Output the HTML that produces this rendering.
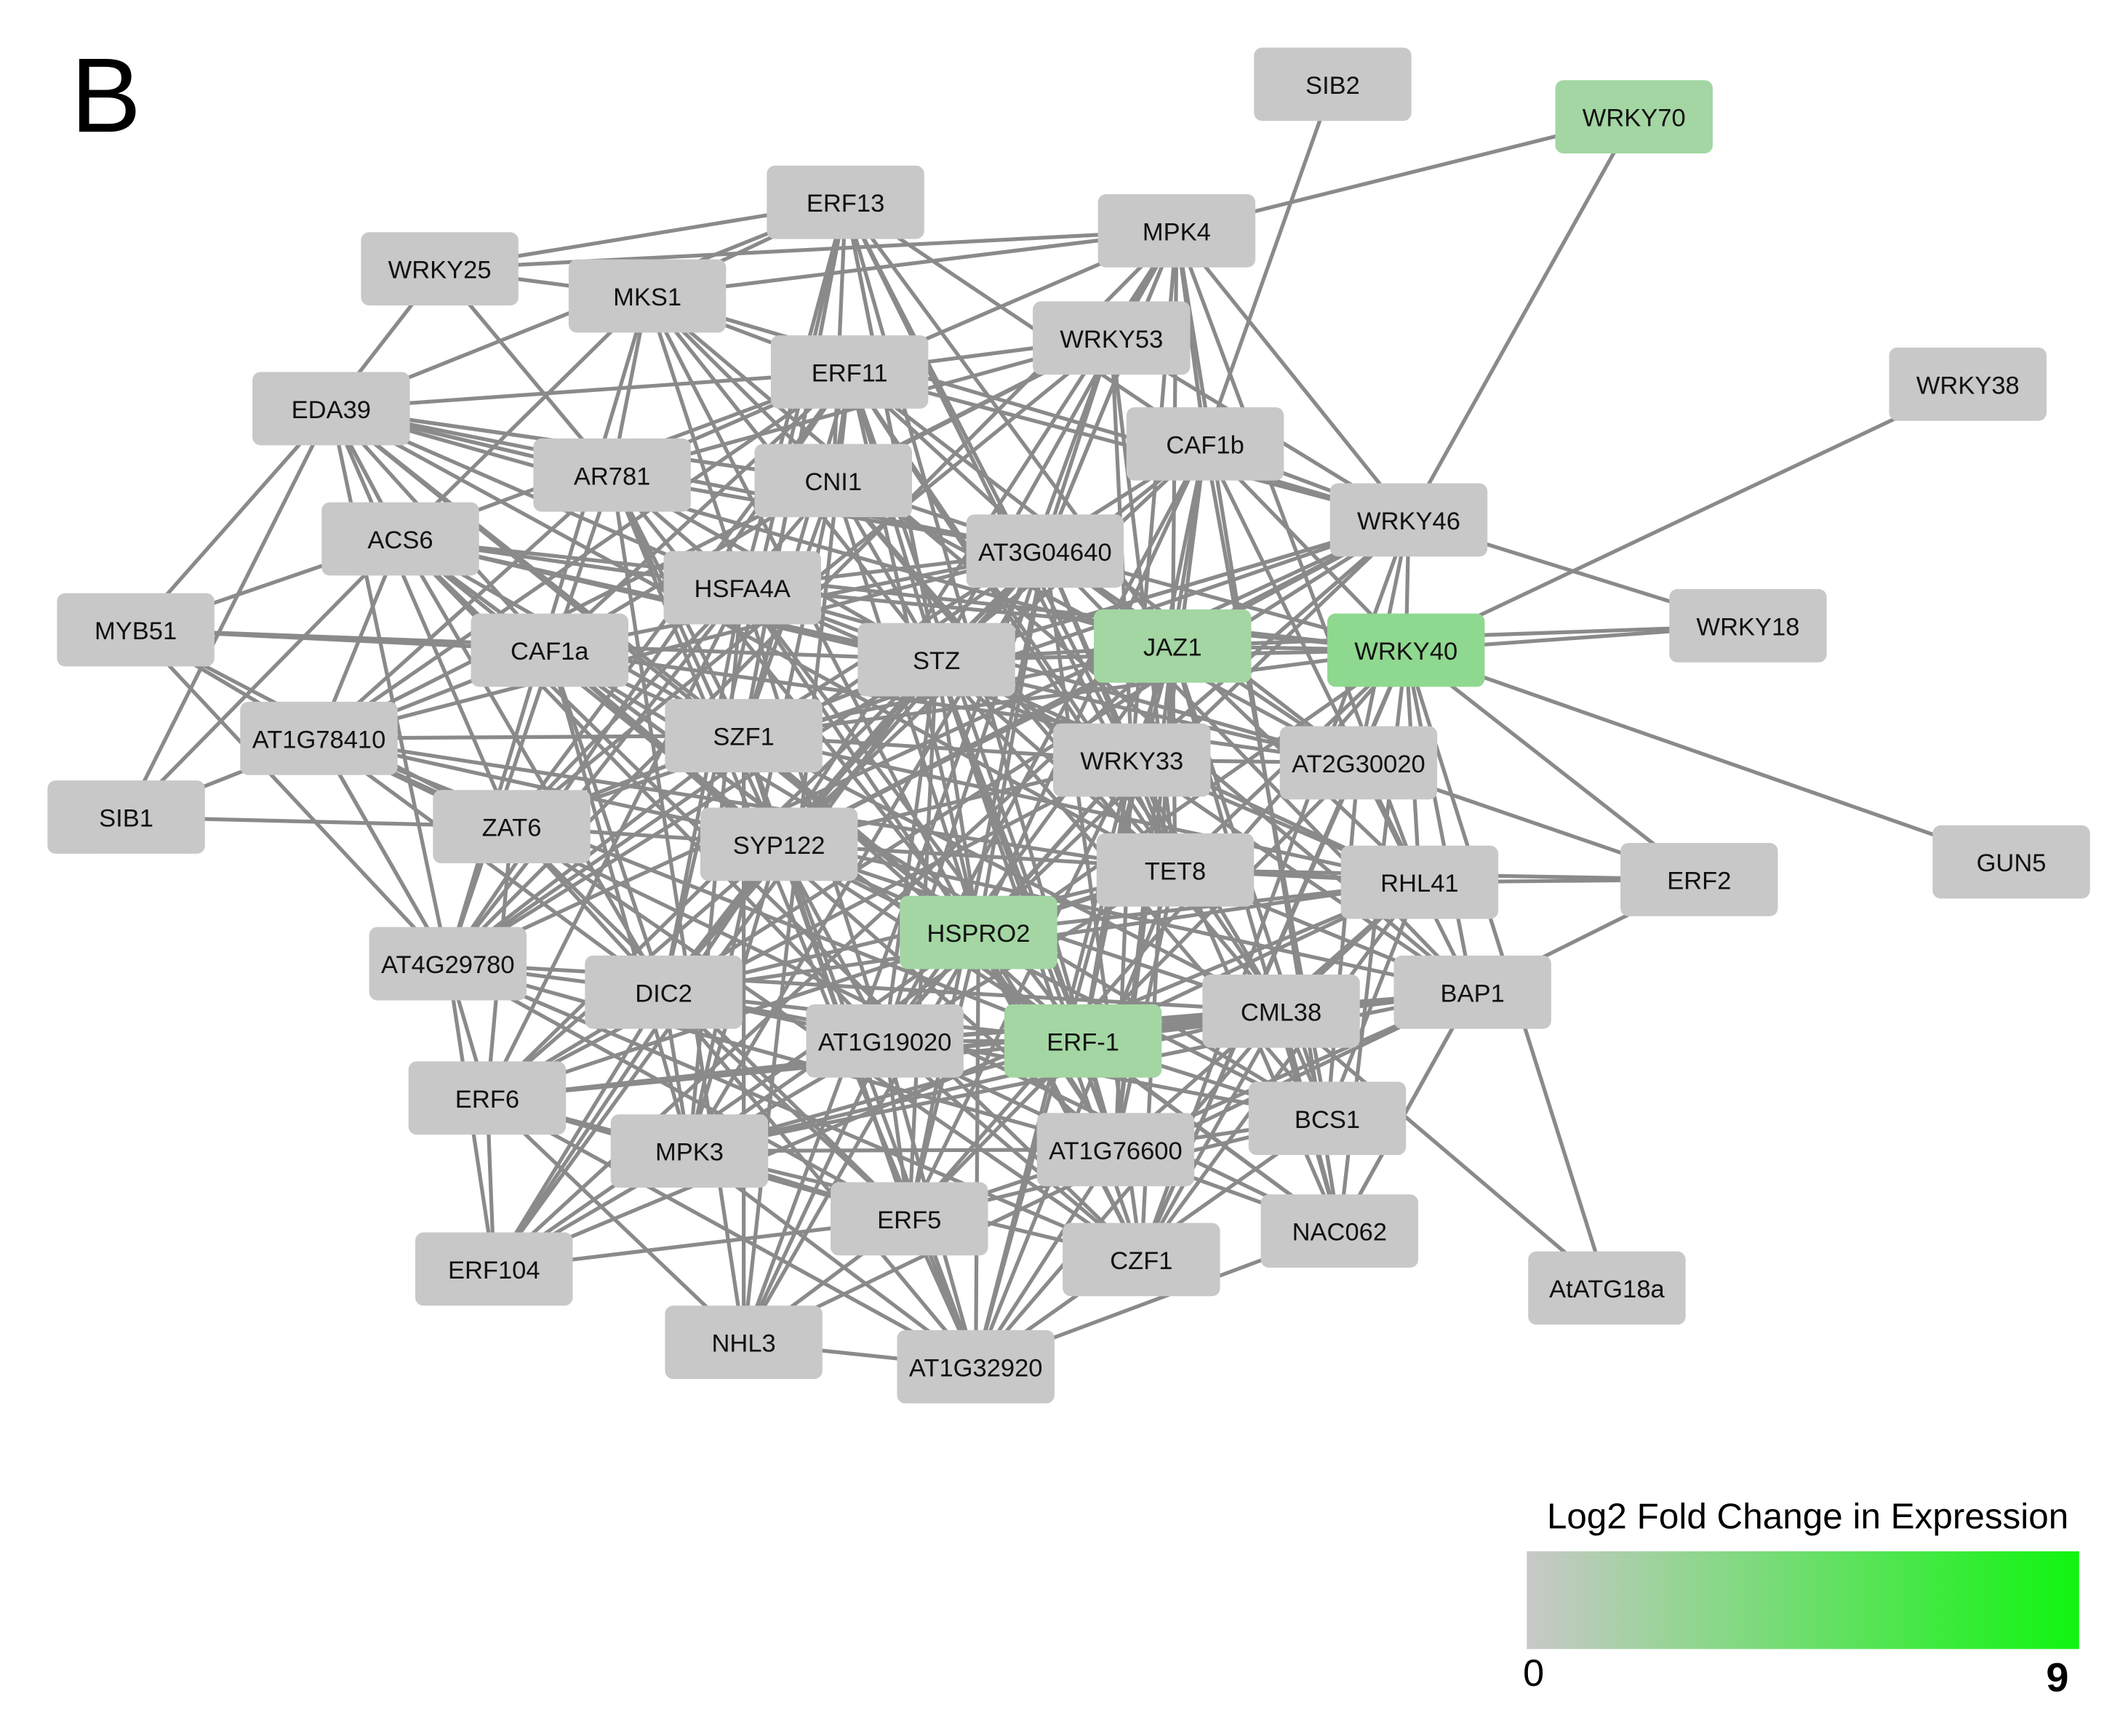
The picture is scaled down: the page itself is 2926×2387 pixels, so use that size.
<!DOCTYPE html>
<html><head><meta charset="utf-8"><style>
html,body{margin:0;padding:0;background:#fff}
svg{display:block}
text{font-family:"Liberation Sans",sans-serif}
</style></head><body>
<svg id="s" width="2926" height="2387" viewBox="0 0 1568 1279" xmlns="http://www.w3.org/2000/svg">
<defs><linearGradient id="g" x1="0" x2="1" y1="0" y2="0"><stop offset="0" stop-color="#c8c8c8"/><stop offset="1" stop-color="#10f510"/></linearGradient></defs>
<rect width="1568" height="1279" fill="#fff"/>
<g id="edges" stroke="#8a8a8a" stroke-width="2.8" fill="none"></g>
<g id="nodes" font-size="18.5" text-anchor="middle"></g>
<text x="52" y="97" font-size="78">B</text>
<text x="1332" y="1126" font-size="26.5" text-anchor="middle">Log2 Fold Change in Expression</text>
<rect x="1125" y="1143" width="407" height="72" fill="url(#g)"/>
<text x="1130" y="1242" font-size="28" text-anchor="middle">0</text>
<text x="1516" y="1246" font-size="30" font-weight="bold" text-anchor="middle">9</text>
<g font-size="18.5" text-anchor="middle" fill="#111">
<rect x="924" y="35" width="116" height="54" rx="6" fill="#c8c8c8"/><text x="982" y="69">SIB2</text>
</g>
</svg>
<script>
var N={"WRKY70":[1204,86,1],"ERF13":[623,149],"MPK4":[867,170],"WRKY25":[324,198],"MKS1":[477,218],"WRKY53":[819,249],"ERF11":[626,274],"WRKY38":[1450,283],"EDA39":[244,301],"CAF1b":[888,327],"AR781":[451,350],"CNI1":[614,354],"WRKY46":[1038,383],"ACS6":[295,397],"AT3G04640":[770,406],"HSFA4A":[547,433],"MYB51":[100,464],"JAZ1":[864,476,1],"WRKY40":[1036,479,2],"STZ":[690,486],"CAF1a":[405,479],"WRKY18":[1288,461],"AT1G78410":[235,544],"SZF1":[548,542],"WRKY33":[834,560],"AT2G30020":[1001,562],"SIB1":[93,602],"ZAT6":[377,609],"SYP122":[574,622],"TET8":[866,641],"RHL41":[1046,650],"ERF2":[1252,648],"GUN5":[1482,635],"HSPRO2":[721,687,1],"AT4G29780":[330,710],"DIC2":[489,731],"BAP1":[1085,731],"CML38":[944,745],"AT1G19020":[652,767],"ERF-1":[798,767,1],"ERF6":[359,809],"BCS1":[978,824],"MPK3":[508,848],"AT1G76600":[822,847],"ERF5":[670,898],"NAC062":[987,907],"CZF1":[841,928],"AtATG18a":[1184,949],"ERF104":[364,935],"NHL3":[548,989],"AT1G32920":[719,1007]};
N["SIB2"]=[982,62];
var E=[["SIB2","CAF1b"],["WRKY70","MPK4"],["WRKY70","WRKY46"],["WRKY38","WRKY40"],["WRKY18","WRKY46"],["WRKY18","WRKY40"],["WRKY18","JAZ1"],["GUN5","WRKY40"],["ERF2","WRKY40"],["ERF2","AT2G30020"],["ERF2","BAP1"],["ERF2","TET8"],["ERF2","RHL41"],["AtATG18a","CML38"],["AtATG18a","WRKY40"],["MYB51","EDA39"],["MYB51","ACS6"],["MYB51","CAF1a"],["MYB51","STZ"],["MYB51","AT1G78410"],["MYB51","ZAT6"],["MYB51","AT4G29780"],["SIB1","EDA39"],["SIB1","ZAT6"],["SIB1","ACS6"],["SIB1","CAF1a"],["WRKY25","MPK4"],["WRKY25","MKS1"],["WRKY25","EDA39"],["WRKY25","AR781"],["WRKY25","ERF13"],["MKS1","MPK4"],["MKS1","ACS6"],["MKS1","AR781"],["MKS1","CNI1"],["EDA39","ACS6"],["EDA39","AR781"],["EDA39","CAF1a"],["EDA39","CNI1"],["MPK4","WRKY53"],["MPK4","CAF1b"],["MPK4","AT3G04640"],["ERF13","STZ"],["ERF13","CAF1b"],["ERF13","HSFA4A"],["ERF13","SZF1"],["WRKY46","JAZ1"],["WRKY46","CAF1b"],["WRKY46","STZ"],["WRKY46","WRKY33"],["AT1G78410","ZAT6"],["AT1G78410","AT4G29780"],["BAP1","WRKY40"],["BAP1","CML38"],["BAP1","NAC062"],["BAP1","AT2G30020"]];
var core=["ERF13","MPK4","MKS1","WRKY53","ERF11","CAF1b","AR781","CNI1","WRKY46","ACS6","AT3G04640","HSFA4A","JAZ1","WRKY40","STZ","CAF1a","SZF1","WRKY33","AT2G30020","ZAT6","SYP122","TET8","RHL41","HSPRO2","AT4G29780","DIC2","BAP1","CML38","AT1G19020","ERF-1","ERF6","BCS1","MPK3","AT1G76600","ERF5","NAC062","CZF1","ERF104","NHL3","AT1G32920","EDA39","AT1G78410"];
var seed=12345;function r(){seed=(seed*1103515245+12345)%2147483648;return seed/2147483648;}
for(var i=0;i<core.length;i++)for(var j=i+1;j<core.length;j++){var a=N[core[i]],b=N[core[j]];var d=Math.hypot(a[0]-b[0],a[1]-b[1]);var cx=(a[0]+b[0])/2-700,cy=(a[1]+b[1])/2-600;var c=Math.hypot(cx,cy)<250?0.12:0;var p=(d<250?0.6:d<450?0.45:d<600?0.2:0.04)+c;if(r()<p)E.push([core[i],core[j]]);}
var ns="http://www.w3.org/2000/svg",eg=document.getElementById("edges"),ng=document.getElementById("nodes");
E.forEach(function(e){var a=N[e[0]],b=N[e[1]];var l=document.createElementNS(ns,"line");l.setAttribute("x1",a[0]);l.setAttribute("y1",a[1]);l.setAttribute("x2",b[0]);l.setAttribute("y2",b[1]);eg.appendChild(l);});
for(var k in N){if(k=="SIB2")continue;var n=N[k];var rc=document.createElementNS(ns,"rect");rc.setAttribute("x",n[0]-58);rc.setAttribute("y",n[1]-27);rc.setAttribute("width",116);rc.setAttribute("height",54);rc.setAttribute("rx",6);rc.setAttribute("fill",n[2]==2?"#8fd88f":n[2]==1?"#a3d6a3":"#c8c8c8");ng.appendChild(rc);}
</script>
<svg style="position:absolute;left:0;top:0" width="2926" height="2387" viewBox="0 0 1568 1279" xmlns="http://www.w3.org/2000/svg">
<g font-family="Liberation Sans, sans-serif" font-size="18.5" text-anchor="middle" fill="#111">
<text x="1204" y="93">WRKY70</text><text x="623" y="156">ERF13</text><text x="867" y="177">MPK4</text><text x="324" y="205">WRKY25</text><text x="477" y="225">MKS1</text><text x="819" y="256">WRKY53</text><text x="626" y="281">ERF11</text><text x="1450" y="290">WRKY38</text><text x="244" y="308">EDA39</text><text x="888" y="334">CAF1b</text><text x="451" y="357">AR781</text><text x="614" y="361">CNI1</text><text x="1038" y="390">WRKY46</text><text x="295" y="404">ACS6</text><text x="770" y="413">AT3G04640</text><text x="547" y="440">HSFA4A</text><text x="100" y="471">MYB51</text><text x="864" y="483">JAZ1</text><text x="1036" y="486">WRKY40</text><text x="690" y="493">STZ</text><text x="405" y="486">CAF1a</text><text x="1288" y="468">WRKY18</text><text x="235" y="551">AT1G78410</text><text x="548" y="549">SZF1</text><text x="834" y="567">WRKY33</text><text x="1001" y="569">AT2G30020</text><text x="93" y="609">SIB1</text><text x="377" y="616">ZAT6</text><text x="574" y="629">SYP122</text><text x="866" y="648">TET8</text><text x="1046" y="657">RHL41</text><text x="1252" y="655">ERF2</text><text x="1482" y="642">GUN5</text><text x="721" y="694">HSPRO2</text><text x="330" y="717">AT4G29780</text><text x="489" y="738">DIC2</text><text x="1085" y="738">BAP1</text><text x="944" y="752">CML38</text><text x="652" y="774">AT1G19020</text><text x="798" y="774">ERF-1</text><text x="359" y="816">ERF6</text><text x="978" y="831">BCS1</text><text x="508" y="855">MPK3</text><text x="822" y="854">AT1G76600</text><text x="670" y="905">ERF5</text><text x="987" y="914">NAC062</text><text x="841" y="935">CZF1</text><text x="1184" y="956">AtATG18a</text><text x="364" y="942">ERF104</text><text x="548" y="996">NHL3</text><text x="719" y="1014">AT1G32920</text>
</g></svg>
</body></html>
